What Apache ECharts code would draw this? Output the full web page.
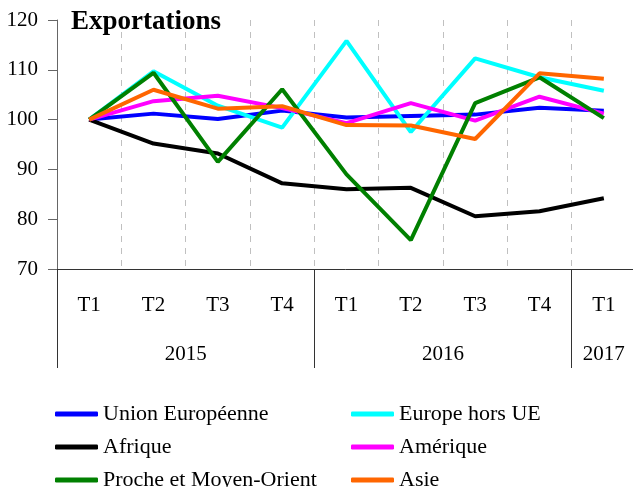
<!DOCTYPE html>
<html>
<head>
<meta charset="utf-8">
<script src="https://cdn.jsdelivr.net/npm/echarts@6/dist/echarts.min.js"></script>
<style>
  html, body { margin: 0; padding: 0; background: #fff; }
  #chart { width: 633px; height: 487px; }
</style>
</head>
<body>
<div id="chart"></div>
<script>
// trimestres et années
const quarters = ['T1', 'T2', 'T3', 'T4', 'T1', 'T2', 'T3', 'T4', 'T1']
const years = ['2015', '2016', '2017']
const yearQuarters = [4, 4, 1]

// indices (base 100 au T1 2015)
const unionEuropeenne = [100, 101.2, 100.1, 101.8, 100.4, 100.7, 101.0, 102.4, 101.8]
const europeHorsUE = [100, 109.7, 102.8, 98.4, 115.8, 97.5, 112.3, 108.5, 105.8]
const afrique = [100, 95.2, 93.2, 87.2, 86.0, 86.3, 80.6, 81.6, 84.2]
const amerique = [100, 103.7, 104.8, 102.3, 99.3, 103.3, 99.8, 104.6, 101.2]
const procheMoyenOrient = [100, 109.4, 91.5, 106.1, 89.0, 75.8, 103.3, 108.5, 100.3]
const asie = [100, 106.0, 102.2, 102.7, 98.9, 98.8, 96.1, 109.3, 108.2]

const seriesNames = ['Union Européenne', 'Europe hors UE', 'Afrique', 'Amérique', 'Proche et Moyen-Orient', 'Asie']
const seriesColors = ['#0000ff', '#00ffff', '#000000', '#ff00ff', '#008000', '#ff6600']
const seriesValues = [unionEuropeenne, europeHorsUE, afrique, amerique, procheMoyenOrient, asie]

// axe des années : 2 crans par trimestre, points aux frontières
const yearSlots = new Array(quarters.length * 2 + 1).fill('')
const yearTicks = [0]
let pos = 0
years.forEach((y, i) => {
  yearSlots[pos + yearQuarters[i]] = y
  pos += yearQuarters[i] * 2
  yearTicks.push(pos)
})

const font = 'Liberation Serif'
const legendText = { fontFamily: font, fontSize: 22, color: '#000', lineHeight: 20, padding: [0, 0, 0, 0] }
const chart = echarts.init(document.getElementById('chart'))

chart.setOption({
  animation: false,
  title: {
    text: 'Exportations',
    left: 66,
    top: 4,
    textStyle: { fontFamily: font, fontSize: 27, fontWeight: 'bold', color: '#000' }
  },
  grid: { left: 57, top: 20, width: 579, height: 249, outerBoundsMode: 'none' },
  legend: [
    {
      data: [seriesNames[0], seriesNames[2], seriesNames[4]],
      orient: 'vertical', left: 55, top: 403, height: 120, padding: 0,
      icon: 'roundRect', itemWidth: 43, itemHeight: 5, itemGap: 11,
      textStyle: legendText
    },
    {
      data: [seriesNames[1], seriesNames[3], seriesNames[5]],
      orient: 'vertical', left: 351, top: 403, height: 120, padding: 0,
      icon: 'roundRect', itemWidth: 43, itemHeight: 5, itemGap: 11,
      textStyle: legendText
    }
  ],
  xAxis: [
    {
      type: 'category',
      data: quarters,
      position: 'bottom',
      axisLine: { lineStyle: { color: '#333', width: 1 } },
      axisTick: { interval: 0, length: 50, lineStyle: { color: '#333' } },
      axisLabel: { interval: 0, margin: 26, fontFamily: font, fontSize: 21, color: '#000' },
      splitLine: { show: true, interval: 0, lineStyle: { type: [6, 6], color: '#c0c0c0' } }
    },
    {
      type: 'category',
      data: yearSlots,
      boundaryGap: false,
      position: 'bottom',
      axisLine: { show: false },
      axisTick: {
        show: true,
        length: 99,
        interval: (idx) => yearTicks.includes(idx),
        lineStyle: { color: '#333' }
      },
      axisLabel: { interval: 0, margin: 75, fontFamily: font, fontSize: 21, color: '#000' },
      splitLine: { show: false }
    }
  ],
  yAxis: {
    type: 'value',
    min: 70,
    max: 120,
    interval: 10,
    axisLine: { show: true, lineStyle: { color: '#666' } },
    axisTick: { show: true, length: 9, lineStyle: { color: '#666' } },
    axisLabel: { margin: 19, fontFamily: font, fontSize: 21, color: '#000' },
    splitLine: { show: false }
  },
  series: seriesNames.map((name, i) => ({
    name: name,
    type: 'line',
    data: seriesValues[i],
    symbol: 'none',
    color: seriesColors[i],
    lineStyle: { width: 4, color: seriesColors[i] }
  }))
})
</script>
</body>
</html>
